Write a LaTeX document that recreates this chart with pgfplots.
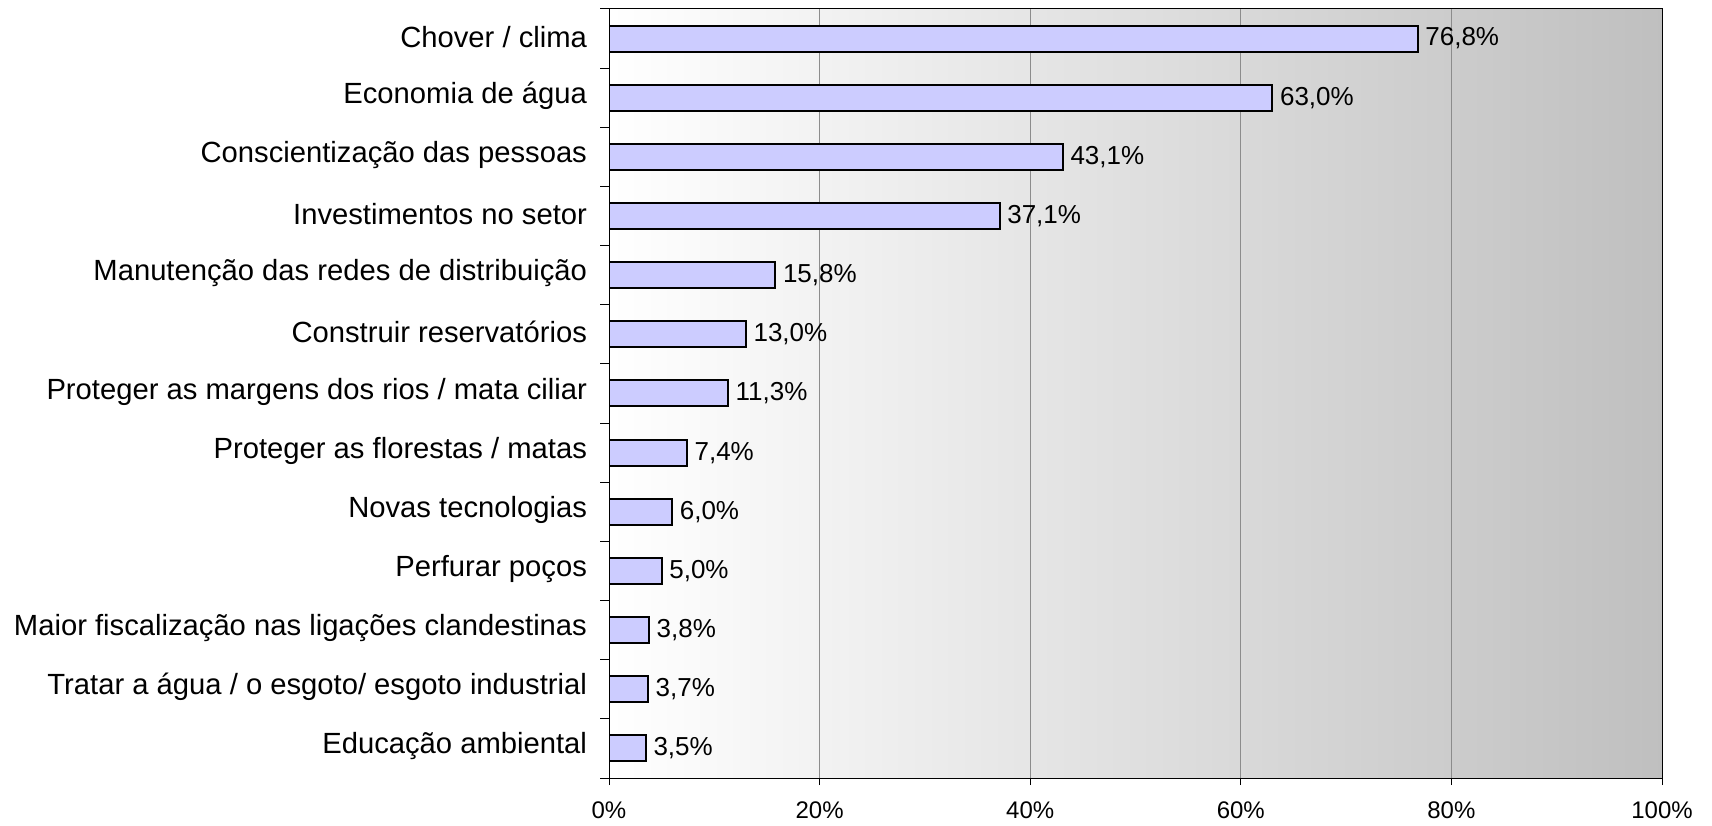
\documentclass[border=0pt]{standalone}
\usepackage{fontspec}
\setmainfont{Liberation Sans}
\usepackage{pgfplots}
\pgfplotsset{compat=1.18}
\newcommand\ylab{\fontsize{14.6pt}{17pt}\selectfont}
\newcommand\vlab{\fontsize{13pt}{15pt}\selectfont}
\newcommand\xlab{\fontsize{12pt}{14pt}\selectfont}
\definecolor{barfill}{HTML}{CCCCFF}
\begin{document}
\begin{tikzpicture}
\useasboundingbox (0,0) rectangle (856pt,412.5pt);
\begin{axis}[
  at={(304.5pt,23.5pt)}, anchor=south west,
  scale only axis, width=526.5pt, height=384.5pt,
  xmin=0, xmax=100, ymin=-0.5, ymax=12.5,
  xtick={0,20,...,100},
  xticklabel={\pgfmathprintnumber{\tick}\%},
  /pgf/number format/assume math mode=true,
  ytick={0,...,12},
  yticklabels={Educação ambiental,
    Tratar a água / o esgoto/ esgoto industrial,
    Maior fiscalização nas ligações clandestinas,
    Perfurar poços,
    Novas tecnologias,
    Proteger as florestas / matas,
    Proteger as margens dos rios / mata ciliar,
    Construir reservatórios,
    Manutenção das redes de distribuição,
    Investimentos no setor,
    Conscientização das pessoas,
    Economia de água,
    Chover / clima},
  minor ytick={-0.5,0.5,...,12.5},
  xtick pos=bottom, ytick pos=left,
  ytick style={draw=none},
  minor y tick style={draw=black, line width=0.5pt},
  minor tick length=4.5pt,
  xtick style={black, line width=0.5pt},
  major tick length=3.5pt,
  tick align=outside,
  xmajorgrids,
  major grid style={gray!90, line width=0.5pt},
  axis line style={black, line width=0.5pt},
  axis background/.style={shade, shading angle=0, left color=white, right color=black!25},
  yticklabel style={font=\ylab, text=black, xshift=-4pt, yshift=1pt},
  xticklabel style={font=\xlab, text=black, yshift=-5pt},
  nodes near coords={\pgfmathprintnumber[fixed,fixed zerofill,precision=1,use comma]{\pgfplotspointmeta}\%},
  point meta=x,
  nodes near coords style={font=\vlab, anchor=west, text=black},
]
\addplot[xbar, bar width=13pt, bar shift=0pt, fill=barfill, draw=black, line width=1pt]
coordinates {
(76.8,12) (63.0,11) (43.1,10) (37.1,9) (15.8,8) (13.0,7) (11.3,6)
(7.4,5) (6.0,4) (5.0,3) (3.8,2) (3.7,1) (3.5,0)
};
\end{axis}
\end{tikzpicture}
\end{document}
